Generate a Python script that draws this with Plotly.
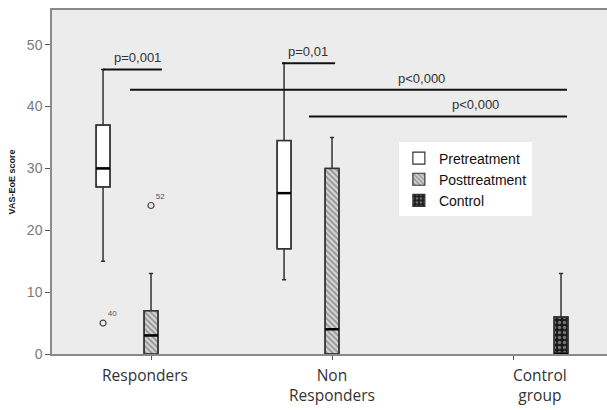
import plotly.graph_objects as go

# ---- data ----
groups = ["Responders", "Non<br>Responders", "Control<br>group"]
series = ["Pretreatment", "Posttreatment", "Control"]

pre_group = [0, 1]
pre_low = [15, 12]
pre_q1 = [27, 17]
pre_med = [30, 26]
pre_q3 = [37, 34.5]
pre_up = [46, 47]

post_group = [0, 1]
post_low = [0, 0]
post_q1 = [0, 0]
post_med = [3, 4]
post_q3 = [7, 30]
post_up = [13, 35]

ctrl_group = [2]
ctrl_low = [0]
ctrl_q1 = [0]
ctrl_med = [0]
ctrl_q3 = [6]
ctrl_up = [13]

outlier_group = [0, 0]
outlier_series = [0, 1]
outlier_val = [5, 24]
outlier_lab = ["40", "52"]

sig_y = [46, 47, 42.7, 38.4]
sig_x0 = [-0.265, 0.724, -0.116, 0.873]
sig_x1 = [0.06, 1.017, 2.298, 2.298]
sig_lab = ["p=0,001", "p=0,01", "p<0,000", "p<0,000"]
sig_lab_x = [-0.077, 0.867, 1.492, 1.79]

OFF = 0.265
W = 0.077
LINE = "#333333"

def pos(g, s):
    return g + (s - 1) * OFF

fig = go.Figure()

fig.add_trace(go.Bar(x=[pos(g, 0) for g in pre_group],
                     y=[b - a for a, b in zip(pre_q1, pre_q3)], base=pre_q1, width=W,
                     marker=dict(color="white", line=dict(color=LINE, width=1.2)),
                     name=series[0], hoverinfo="skip"))
fig.add_trace(go.Bar(x=[pos(g, 1) for g in post_group],
                     y=[b - a for a, b in zip(post_q1, post_q3)], base=post_q1, width=W,
                     marker=dict(color="#d0d0d0", line=dict(color=LINE, width=1.2),
                                 pattern=dict(shape="\\", fgcolor="#4a4a4a", bgcolor="#d4d4d4",
                                              size=4, solidity=0.4)),
                     name=series[1], hoverinfo="skip"))
fig.add_trace(go.Bar(x=[pos(g, 2) for g in ctrl_group],
                     y=[b - a for a, b in zip(ctrl_q1, ctrl_q3)], base=ctrl_q1, width=W,
                     marker=dict(color="#1a1a1a", line=dict(color=LINE, width=1.2),
                                 pattern=dict(shape=".", fgcolor="#cfcfcf", bgcolor="#1a1a1a",
                                              size=5, solidity=0.35)),
                     name=series[2], hoverinfo="skip"))

for grp, s, lo, q1, md, q3, up in [
    (pre_group, 0, pre_low, pre_q1, pre_med, pre_q3, pre_up),
    (post_group, 1, post_low, post_q1, post_med, post_q3, post_up),
    (ctrl_group, 2, ctrl_low, ctrl_q1, ctrl_med, ctrl_q3, ctrl_up),
]:
    fig.add_trace(go.Box(x=[pos(g, s) for g in grp], lowerfence=lo, q1=q1, median=md,
                         q3=q3, upperfence=up, width=W, whiskerwidth=0.3,
                         fillcolor="rgba(0,0,0,0)", line=dict(color=LINE, width=1.5),
                         showlegend=False, hoverinfo="skip"))
    mx, my = [], []
    for g, m, a in zip(grp, md, q3):
        if a > m:
            mx += [pos(g, s) - W / 2, pos(g, s) + W / 2, None]
            my += [m, m, None]
    if mx:
        fig.add_trace(go.Scatter(x=mx, y=my, mode="lines", line=dict(color="#000000", width=2.5),
                                 showlegend=False, hoverinfo="skip"))

fig.add_trace(go.Scatter(x=[pos(g, s) for g, s in zip(outlier_group, outlier_series)],
                         y=outlier_val, mode="markers+text", text=outlier_lab,
                         textposition="top right",
                         textfont=dict(size=8, color="#555555", family="Liberation Sans"),
                         marker=dict(symbol="circle-open", size=6, color="#444444",
                                     line=dict(width=1.2)),
                         showlegend=False, hoverinfo="skip"))

for x0, x1, y, lab, lx in zip(sig_x0, sig_x1, sig_y, sig_lab, sig_lab_x):
    fig.add_trace(go.Scatter(x=[x0, x1], y=[y, y], mode="lines",
                             line=dict(color="#111111", width=2),
                             showlegend=False, hoverinfo="skip"))
    fig.add_annotation(x=lx, y=y, text=lab, showarrow=False, yanchor="bottom", yshift=2,
                       font=dict(size=13, color="#333333", family="Liberation Sans"))

shifts = [-6, 0, 27]
for i, (g, sh) in enumerate(zip(groups, shifts)):
    fig.add_annotation(x=i, y=0, yref="paper", text=g, showarrow=False, yanchor="top",
                       yshift=-8, xshift=sh,
                       font=dict(size=15.5, color="#333333", family="Open Sans"))

fig.update_layout(
    width=607, height=410,
    margin=dict(l=52, r=0, t=10, b=56),
    paper_bgcolor="white", plot_bgcolor="#ececec",
    barmode="overlay", boxmode="overlay",
    showlegend=True,
    legend=dict(x=0.625, y=0.615, xanchor="left", yanchor="top",
                bgcolor="white", font=dict(size=14, color="#111111", family="Liberation Sans"),
                traceorder="normal", itemwidth=30, tracegroupgap=0),
    xaxis=dict(range=[-0.547, 2.519], showgrid=False, zeroline=False,
               showline=True, mirror=True, linecolor="#8a8a8a", linewidth=1.5,
               tickvals=[0, 1, 2], ticktext=["", "", ""], ticks="outside",
               ticklen=4, tickcolor="#555555", automargin=False),
    yaxis=dict(range=[0, 55.6], showgrid=False, zeroline=False, automargin=False,
               showline=True, linecolor="#8a8a8a", linewidth=1.5,
               tickvals=[0, 10, 20, 30, 40, 50], ticks="outside", ticklen=5,
               tickcolor="#555555",
               tickfont=dict(size=14, color="#7a7a7a", family="Liberation Sans"),
               title=dict(text="<b>VAS-EoE score</b>", standoff=10,
                          font=dict(size=9, color="#222222", family="Liberation Sans"))),
)

fig.write_html("out.html", config={"displayModeBar": False},
               post_script="document.body.style.margin='0';")
